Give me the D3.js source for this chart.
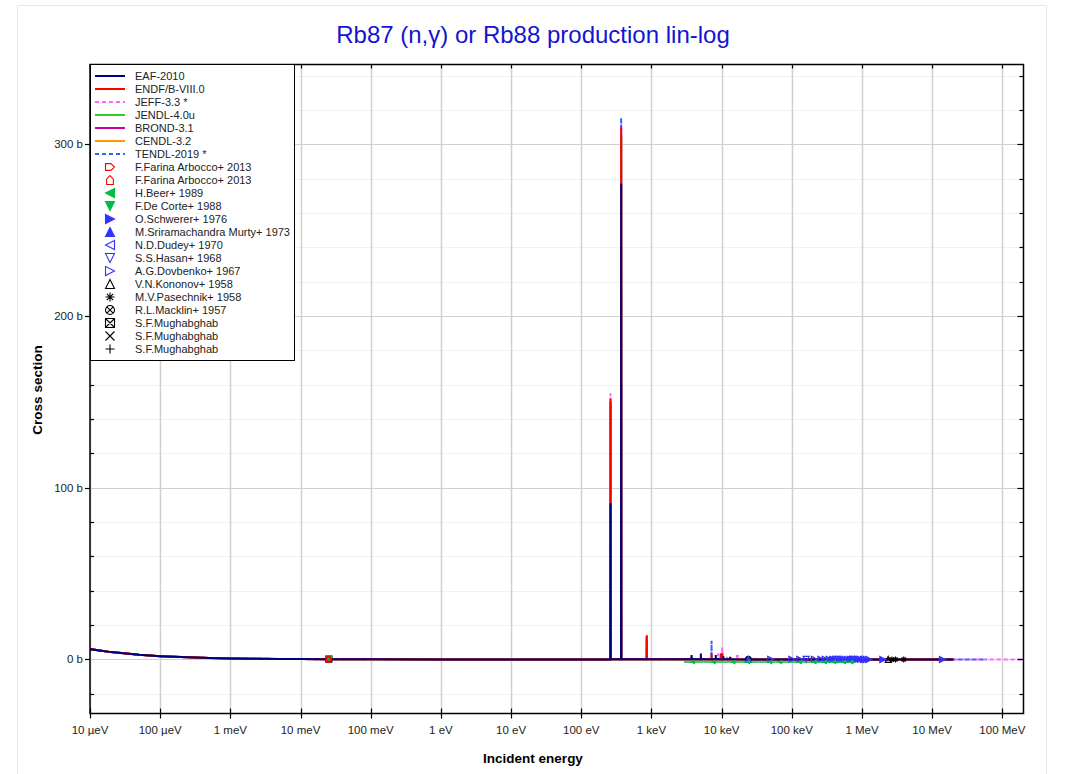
<!DOCTYPE html>
<html><head><meta charset="utf-8">
<script src="https://cdn.jsdelivr.net/npm/d3@7"></script>
<style>body{margin:0;background:#fff;}svg{display:block;font-family:"Liberation Sans",Arial,sans-serif;}</style>
</head><body><svg id="c" width="1067" height="774"></svg>
<script>
// ---------- data ----------
const xTickValues = [1e-5,1e-4,1e-3,1e-2,1e-1,1,10,100,1e3,1e4,1e5,1e6,1e7,1e8];
const xTickLabels = ["10 µeV","100 µeV","1 meV","10 meV","100 meV","1 eV","10 eV","100 eV","1 keV","10 keV","100 keV","1 MeV","10 MeV","100 MeV"];
const yTickValues = [0,100,200,300];
const yTickLabels = ["0 b","100 b","200 b","300 b"];

// thermal / 1/v region (eV, barn)
const lowE  = [1e-5, 2e-5, 5e-5, 1e-4, 2e-4, 5e-4, 1e-3, 2e-3, 5e-3, 1e-2, 0.0253, 0.1, 1, 10, 100, 250];
const lowXs = [6.0, 4.25, 2.7, 1.9, 1.34, 0.85, 0.60, 0.42, 0.27, 0.19, 0.12, 0.06, 0.02, 0.008, 0.006, 0.02];

// resonance + fast region per library [E (eV), xs (b)]
const eafRes = [[259.6,0.03],[261,91],[262.4,0.03],[368,0.03],[370,277],[372,0.03],[3710,0.03],[3730,2.5],[3750,0.03],[5040,0.03],[5060,3.5],[5080,0.03],[8240,0.03],[8260,2.5],[8280,0.03],[10580,0.03],[10600,1.8],[10620,0.03],[13180,0.03],[13200,1.5],[13220,0.03],[30000,0.02],[1e5,0.012],[1e6,0.006],[2e7,0.001]];
const endfRes = [[259.6,0.03],[261,152],[262.4,0.03],[368,0.03],[370,310],[372,0.03],[855,0.03],[859,14],[863,0.03],[3710,0.03],[3730,1.5],[3750,0.03],[7160,0.03],[7180,3.5],[7200,0.03],[9650,0.03],[9700,3.5],[9750,0.2],[9850,3.5],[9950,0.2],[10050,3.5],[10150,0.2],[10250,3.5],[10300,0.03],[30000,0.02],[1e5,0.012],[1e6,0.006],[2e7,0.001]];
const jeffRes = [[259.6,0.03],[261,155],[262.4,0.03],[368,0.03],[370,312],[372,0.03],[855,0.03],[859,14],[863,0.03],[8880,0.03],[8900,3.5],[8920,0.03],[10180,0.03],[10200,7],[10220,0.03],[11980,0.03],[12000,1.5],[12020,0.03],[13780,0.03],[13800,1.5],[13820,0.03],[16480,0.03],[16500,2.5],[16600,0.3],[17100,2.5],[17150,0.03],[18880,0.03],[18900,1.5],[18920,0.03],[25700,0.03],[25800,1.0],[25900,0.03],[28000,0.03],[28100,0.9],[28200,0.03],[30900,0.03],[31000,1.0],[31100,0.03],[1e5,0.012],[1e6,0.006],[2e7,0.001],[2e8,0.0005]];
const tendlRes = [[259.6,0.03],[261,150],[262.4,0.03],[368,0.03],[370,315.7],[372,0.03],[855,0.03],[859,13],[863,0.03],[7160,0.03],[7180,10.8],[7200,0.03],[30000,0.02],[1e5,0.012],[1e6,0.006],[2e7,0.001],[6e7,0.0008]];
const jendlRes = [[259.6,0.03],[261,150],[262.4,0.03],[368,0.03],[370,305],[372,0.03],[855,0.03],[859,13],[863,0.03],[30000,0.02],[1e5,0.012],[1e6,0.006],[2e7,0.001]];
const brondRes = [[259.6,0.03],[261,150],[262.4,0.03],[368,0.03],[370,305],[372,0.03],[855,0.03],[859,13],[863,0.03],[30000,0.02],[1e5,0.012],[1e6,0.006],[2e7,0.001]];
const cendlRes = [[259.6,0.03],[261,150],[262.4,0.03],[368,0.03],[370,305],[372,0.03],[855,0.03],[859,13],[863,0.03],[30000,0.02],[1e5,0.012],[1e6,0.006],[2e7,0.001]];

// experimental data (E in eV, xs in b)
const farina1E = [0.0253], farina1Xs = [0.12];
const farina2E = [0.0253], farina2Xs = [0.12];
const beerE  = [3.9e3, 7.7e3, 14.7e3, 23.8e3, 49e3, 68e3, 130e3, 210e3, 295e3, 400e3, 550e3, 700e3];
const beerLo = [2.9e3, 5.5e3, 11e3, 19e3, 35e3, 58e3, 95e3, 170e3, 250e3, 350e3, 470e3, 620e3];
const beerHi = [5.5e3, 11e3, 19e3, 35e3, 58e3, 95e3, 170e3, 250e3, 350e3, 470e3, 620e3, 780e3];
const beerXs = [-1.5,-1.5,-1.5,-1.5,-1.5,-1.5,-1.5,-1.5,-1.5,-1.5,-1.5,-1.5];
const deCorteE = [0.0253], deCorteXs = [0.12];
const schwererE = [1.98e6, 1.4e7], schwererXs = [0.002, 0.001];
const murtyE = [2.4e4], murtyXs = [0.03];
const dudeyE = [3.5e5, 6.0e5, 9.0e5], dudeyXs = [0.015, 0.01, 0.008];
const hasanE = [1.6e5, 4.5e5, 7.5e5], hasanXs = [0.02, 0.012, 0.009];
const dovbenkoE = [5.0e4, 1.0e5, 1.3e5, 2.1e5, 2.6e5, 3.0e5, 3.4e5, 3.8e5, 4.2e5, 4.7e5, 5.2e5, 5.7e5, 6.2e5, 6.8e5, 7.4e5, 8.0e5, 8.7e5, 9.5e5, 1.05e6, 1.15e6, 1.25e6];
const dovbenkoXs = [0.03, 0.02, 0.018, 0.015, 0.014, 0.013, 0.012, 0.012, 0.011, 0.011, 0.01, 0.01, 0.01, 0.009, 0.009, 0.009, 0.008, 0.008, 0.007, 0.007, 0.006];
const kononovE = [2.36e6], kononovXs = [0.003];
const pasechnikE = [2.66e6, 3.0e6, 3.93e6], pasechnikXs = [0.003, 0.003, 0.002];
const macklinE = [2.4e4], macklinXs = [0.03];
const mugh1E = [0.0253], mugh1Xs = [0.12];
const mugh2E = [0.0253], mugh2Xs = [0.12];
const mugh3E = [0.0253], mugh3Xs = [0.12];

// ---------- chart ----------
const svg = d3.select("#c");
const L = 90, R = 1023.5, T = 64.5, B = 713.5;
const x = d3.scaleLog().domain([1e-5, 2e8]).range([L, R]);
const y = d3.scaleLinear().domain([-31.5, 346.5]).range([B, T]);

// outer frame
svg.append("rect").attr("x",17.5).attr("y",5.5).attr("width",1029).attr("height",800)
  .attr("fill","#fff").attr("stroke","#e6e6e6");

svg.append("text").attr("x",533).attr("y",43).attr("text-anchor","middle")
  .attr("font-size",24).attr("fill","#1414d2").text("Rb87 (n,γ) or Rb88 production lin-log");

// grid
const grid = svg.append("g");
const minorY = d3.range(-20, 347, 20).filter(v => v % 100 !== 0);
grid.selectAll(".ym").data(minorY).enter().append("line")
  .attr("x1",L).attr("x2",R).attr("y1",d=>Math.round(y(d))+0.5).attr("y2",d=>Math.round(y(d))+0.5)
  .attr("stroke","#f0f0f0").attr("stroke-width",1);
grid.selectAll(".yM").data(yTickValues).enter().append("line")
  .attr("x1",L).attr("x2",R).attr("y1",d=>Math.round(y(d))+0.5).attr("y2",d=>Math.round(y(d))+0.5)
  .attr("stroke","#d0d0d0").attr("stroke-width",1);
grid.selectAll(".xM").data(xTickValues).enter().append("line")
  .attr("y1",T).attr("y2",B).attr("x1",d=>Math.round(x(d))+0.5).attr("x2",d=>Math.round(x(d))+0.5)
  .attr("stroke","#d0d0d0").attr("stroke-width",1.5);

// clip
svg.append("clipPath").attr("id","clip").append("rect").attr("x",L).attr("y",T).attr("width",R-L).attr("height",B-T);
const plot = svg.append("g").attr("clip-path","url(#clip)");

const lowPts = lowE.map((e,i)=>[e, lowXs[i]]);
const libs = [
  {name:"EAF-2010", color:"#00007f", dash:null, res:eafRes},
  {name:"ENDF/B-VIII.0", color:"#ff0000", dash:null, res:endfRes},
  {name:"JEFF-3.3 *", color:"#ff66ff", dash:"4,3", res:jeffRes},
  {name:"JENDL-4.0u", color:"#33cc33", dash:null, res:jendlRes},
  {name:"BROND-3.1", color:"#cc0099", dash:null, res:brondRes},
  {name:"CENDL-3.2", color:"#ff9900", dash:null, res:cendlRes},
  {name:"TENDL-2019 *", color:"#3366ee", dash:"4,3", res:tendlRes}
];
const drawOrder = ["JEFF-3.3 *","TENDL-2019 *","CENDL-3.2","BROND-3.1","JENDL-4.0u","ENDF/B-VIII.0","EAF-2010"];
const line = d3.line().x(d=>x(d[0])).y(d=>y(d[1]));
drawOrder.forEach(n=>{
  const lib = libs.find(l=>l.name===n);
  plot.append("path").datum(lowPts.concat(lib.res)).attr("d",line)
    .attr("fill","none").attr("stroke",lib.color).attr("stroke-width",2)
    .attr("stroke-dasharray",lib.dash);
});

// symbols
function symPath(type, s){
  const h = s/2;
  switch(type){
    case "triR": return `M${-h},${-h}L${h},0L${-h},${h}Z`;
    case "triL": return `M${h},${-h}L${-h},0L${h},${h}Z`;
    case "triU": return `M${-h},${h}L0,${-h}L${h},${h}Z`;
    case "triD": return `M${-h},${-h}L${h},${-h}L0,${h}Z`;
    case "pentR": return `M${-h},${-0.75*h}L${0.2*h},${-0.75*h}L${h},0L${0.2*h},${0.75*h}L${-h},${0.75*h}Z`;
    case "pentU": return `M${-0.75*h},${h}L${-0.75*h},${-0.2*h}L0,${-h}L${0.75*h},${-0.2*h}L${0.75*h},${h}Z`;
    case "star": return `M0,${-h}V${h}M${-h},0H${h}M${-0.7*h},${-0.7*h}L${0.7*h},${0.7*h}M${-0.7*h},${0.7*h}L${0.7*h},${-0.7*h}`;
    case "circX": return `M${h},0A${h},${h} 0 1,1 ${-h},0A${h},${h} 0 1,1 ${h},0M${-0.7*h},${-0.7*h}L${0.7*h},${0.7*h}M${-0.7*h},${0.7*h}L${0.7*h},${-0.7*h}`;
    case "sqX": return `M${-h},${-h}H${h}V${h}H${-h}ZM${-h},${-h}L${h},${h}M${-h},${h}L${h},${-h}`;
    case "x": return `M${-h},${-h}L${h},${h}M${-h},${h}L${h},${-h}`;
    case "plus": return `M0,${-h}V${h}M${-h},0H${h}`;
  }
}
const sets = [
  {name:"F.Farina Arbocco+ 2013", type:"pentR", color:"#ff0000", fill:false, E:farina1E, Xs:farina1Xs},
  {name:"F.Farina Arbocco+ 2013", type:"pentU", color:"#ff0000", fill:false, E:farina2E, Xs:farina2Xs},
  {name:"H.Beer+ 1989", type:"triL", color:"#00bb44", fill:true, E:beerE, Xs:beerXs, lo:beerLo, hi:beerHi, size:3},
  {name:"F.De Corte+ 1988", type:"triD", color:"#00bb44", fill:true, E:deCorteE, Xs:deCorteXs},
  {name:"O.Schwerer+ 1976", type:"triR", color:"#3333ff", fill:true, E:schwererE, Xs:schwererXs},
  {name:"M.Sriramachandra Murty+ 1973", type:"triU", color:"#3333ff", fill:true, E:murtyE, Xs:murtyXs},
  {name:"N.D.Dudey+ 1970", type:"triL", color:"#3333ff", fill:false, E:dudeyE, Xs:dudeyXs},
  {name:"S.S.Hasan+ 1968", type:"triD", color:"#3333ff", fill:false, E:hasanE, Xs:hasanXs},
  {name:"A.G.Dovbenko+ 1967", type:"triR", color:"#3333ff", fill:false, E:dovbenkoE, Xs:dovbenkoXs},
  {name:"V.N.Kononov+ 1958", type:"triU", color:"#000000", fill:false, E:kononovE, Xs:kononovXs},
  {name:"M.V.Pasechnik+ 1958", type:"star", color:"#000000", fill:false, E:pasechnikE, Xs:pasechnikXs},
  {name:"R.L.Macklin+ 1957", type:"circX", color:"#000000", fill:false, E:macklinE, Xs:macklinXs},
  {name:"S.F.Mughabghab", type:"sqX", color:"#000000", fill:false, E:mugh1E, Xs:mugh1Xs},
  {name:"S.F.Mughabghab", type:"x", color:"#000000", fill:false, E:mugh2E, Xs:mugh2Xs},
  {name:"S.F.Mughabghab", type:"plus", color:"#000000", fill:false, E:mugh3E, Xs:mugh3Xs}
];
const dataG = plot.append("g");
sets.slice().reverse().forEach(s=>{
  s.E.forEach((e,i)=>{
    if(s.lo){
      dataG.append("line").attr("x1",x(s.lo[i])).attr("x2",x(s.hi[i]))
        .attr("y1",y(s.Xs[i])).attr("y2",y(s.Xs[i])).attr("stroke",s.color).attr("stroke-width",1.5);
    }
    dataG.append("path").attr("d",symPath(s.type,s.size||6))
      .attr("transform",`translate(${x(e)},${y(s.Xs[i])})`)
      .attr("fill",s.fill?s.color:"none").attr("stroke",s.color).attr("stroke-width",1.2);
  });
});

// axes frame
svg.append("rect").attr("x",L).attr("y",T).attr("width",R-L).attr("height",B-T)
  .attr("fill","none").attr("stroke","#000").attr("stroke-width",1.5);
const ax = svg.append("g").attr("stroke","#000").attr("stroke-width",1.2);
xTickValues.forEach(v=>{
  const px = Math.round(x(v))+0.5;
  ax.append("line").attr("x1",px).attr("x2",px).attr("y1",B-5).attr("y2",B+5);
  ax.append("line").attr("x1",px).attr("x2",px).attr("y1",T).attr("y2",T+4);
});
yTickValues.forEach(v=>{
  const py = Math.round(y(v))+0.5;
  ax.append("line").attr("x1",L-5).attr("x2",L).attr("y1",py).attr("y2",py);
  ax.append("line").attr("x1",R-6).attr("x2",R).attr("y1",py).attr("y2",py);
});
minorY.forEach(v=>{
  const py = Math.round(y(v))+0.5;
  ax.append("line").attr("x1",L).attr("x2",L+4).attr("y1",py).attr("y2",py);
  ax.append("line").attr("x1",R-4).attr("x2",R).attr("y1",py).attr("y2",py);
});
const lab = svg.append("g").attr("font-size",11.5).attr("fill","#222");
xTickValues.forEach((v,i)=>{
  lab.append("text").attr("x",x(v)).attr("y",B+20).attr("text-anchor","middle").text(xTickLabels[i]);
});
yTickValues.forEach((v,i)=>{
  lab.append("text").attr("x",L-7).attr("y",y(v)+4).attr("text-anchor","end").text(yTickLabels[i]);
});
svg.append("text").attr("x",533).attr("y",763).attr("text-anchor","middle")
  .attr("font-size",13.5).attr("font-weight","bold").text("Incident energy");
svg.append("text").attr("transform","translate(42,390) rotate(-90)").attr("text-anchor","middle")
  .attr("font-size",13.5).attr("font-weight","bold").text("Cross section");

// legend
const lg = svg.append("g");
lg.append("rect").attr("x",L+0.5).attr("y",T).attr("width",204).attr("height",296)
  .attr("fill","#fff").attr("stroke","#000").attr("stroke-width",1);
const rowY = i => 76 + i*13;
libs.forEach((l,i)=>{
  lg.append("line").attr("x1",95).attr("x2",125).attr("y1",rowY(i)).attr("y2",rowY(i))
    .attr("stroke",l.color).attr("stroke-width",2).attr("stroke-dasharray",l.dash);
  lg.append("text").attr("x",135).attr("y",rowY(i)+4).attr("font-size",11).attr("fill","#222").text(l.name);
});
sets.forEach((s,j)=>{
  const i = j + libs.length;
  lg.append("path").attr("d",symPath(s.type,9)).attr("transform",`translate(110,${rowY(i)})`)
    .attr("fill",s.fill?s.color:"none").attr("stroke",s.color).attr("stroke-width",1.1);
  lg.append("text").attr("x",135).attr("y",rowY(i)+4).attr("font-size",11).attr("fill","#222").text(s.name);
});
</script></body></html>
